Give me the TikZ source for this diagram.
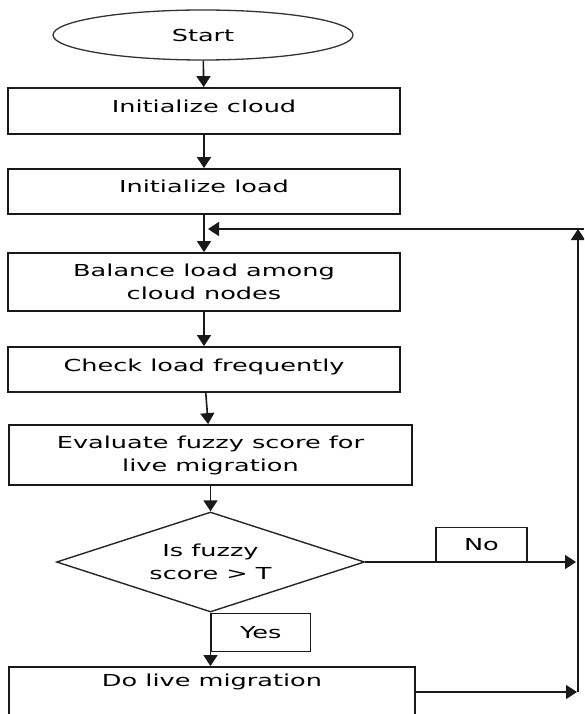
\documentclass[tikz,border=0pt]{standalone}
\usepackage{fontspec}
\setmainfont{DejaVu Sans}[FakeStretch=1.55]
\usetikzlibrary{shapes.geometric,arrows.meta,positioning}

\begin{document}
\begin{tikzpicture}[x=1pt,y=-1pt,
    font=\fontsize{16.5}{23}\selectfont,
    box/.style={draw=black!90,line width=1.8pt,minimum width=392pt,align=center,inner sep=0pt},
    oneline/.style={text height=12.5pt,text depth=9.5pt},
    tag/.style={draw=black!90,line width=1.4pt,inner sep=0pt},
    arr/.style={draw=black!90,line width=1.6pt,-{Triangle[width=14pt,length=11pt]}}]
    \useasboundingbox (0,0) rectangle (584,714);
    \clip (0,0) rectangle (584,714);
    \node[ellipse,draw=black!80,line width=1.3pt,minimum width=300pt,minimum height=50pt] (start) at (203,35) {Start};
    \node[box,oneline,minimum height=46pt] (cloud) at (204,111) {Initialize cloud};
    \node[box,oneline,minimum height=45pt] (load) at (204,191.5) {Initialize load};
    \node[box,minimum height=58pt] (bal) at (204,282) {Balance load among\\cloud nodes};
    \node[box,oneline,minimum height=45pt] (check) at (204,369.5) {Check load frequently};
    \node[box,minimum width=403pt,minimum height=60pt] (fuzzy) at (210.5,455) {Evaluate fuzzy score for\\live migration};
    \node[diamond,draw=black!85,line width=1.4pt,aspect=3,minimum width=308pt,minimum height=100pt,inner sep=0pt,align=center] (dec) at (210.5,562) {Is fuzzy\\score > T};
    \node[box,minimum width=406pt,minimum height=50pt] (mig) at (212,692) {Do live migration\\~};
    \node[tag,minimum width=99pt,minimum height=38pt,anchor=north west] (yes) at (dec.south) {Yes};
    \node[tag,minimum width=91pt,minimum height=34pt,above right=0pt and 70pt of dec.east] (no) {No};
    \coordinate (corner) at (578,229);
    \draw[arr] (start) -- (cloud);
    \draw[arr] (cloud) -- (load);
    \draw[arr] (load) -- (bal);
    \draw[arr] (bal) -- (check);
    \draw[arr] (check) -- (fuzzy);
    \draw[arr] (fuzzy.south) -- (dec.north);
    \draw[arr] (dec.south) -- (dec.south |- mig.north);
    \draw[arr] (dec.east) -- ([xshift=-2pt]dec.east -| corner);
    \draw[arr] (mig.east) -- ([xshift=-1pt]mig.east -| corner);
    \draw[arr] (mig.east -| corner) -- (corner);
    \draw[arr] ([xshift=6pt]corner) -- ([xshift=4pt]load.south |- corner);
\end{tikzpicture}
\end{document}
